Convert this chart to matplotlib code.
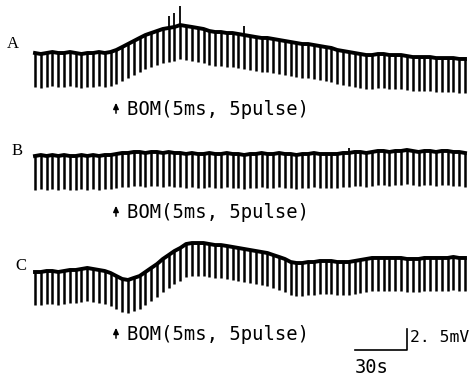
import numpy as np
import matplotlib
matplotlib.use("Agg")
import matplotlib.pyplot as plt

# ---- data (mV relative to each trace's initial level) ----
period_s = 3.35            # interval between evoked spikes (s)
depth_A = 4.0              # downward spike amplitude (mV)
depth_B = 4.0
depth_C = 3.9

base_A = [0.0, -0.12, 0.0, 0.12, 0.0, 0.0, 0.12, 0.0, -0.12, 0.0, 0.0, 0.12, 0.0, 0.12,
          0.36, 0.71, 1.07, 1.43, 1.79, 2.14, 2.38, 2.62, 2.86, 2.98,
          3.10, 3.33, 3.21, 3.10, 2.98, 2.86, 2.62, 2.50, 2.50, 2.38,
          2.38, 2.26, 2.14, 2.02, 1.90, 1.79, 1.79, 1.67, 1.55, 1.43,
          1.31, 1.19, 1.07, 1.07, 0.95, 0.83, 0.71, 0.60, 0.36, 0.24,
          0.12, 0.0, -0.12, -0.24, -0.24, -0.12, -0.12, -0.24, -0.24, -0.24,
          -0.36, -0.48, -0.48, -0.48, -0.48, -0.60, -0.60, -0.60, -0.60, -0.71, -0.71]
up_A = {23: 1.43, 24: 1.67, 25: 2.26, 36: 1.1}

base_B = [-0.12, 0.0, -0.12, 0.0, -0.12, 0.0, -0.12, -0.12, 0.0, -0.12, 0.0, -0.12, 0.0, 0.0, 0.12,
          0.24, 0.24, 0.36, 0.36, 0.24, 0.36, 0.36, 0.24, 0.36, 0.24,
          0.24, 0.12, 0.24, 0.12, 0.12, 0.24, 0.12, 0.12, 0.24, 0.12, 0.12, 0.0, 0.12,
          0.12, 0.24, 0.12, 0.12, 0.24, 0.12, 0.12, 0.0, 0.12, 0.12, 0.24, 0.12, 0.12,
          0.12, 0.12, 0.24, 0.24, 0.36, 0.36, 0.24,
          0.36, 0.48, 0.48, 0.36, 0.48, 0.48, 0.60, 0.48, 0.36, 0.48, 0.48, 0.36,
          0.48, 0.48, 0.36, 0.36, 0.24]
up_B = {54: 0.6}

base_C = [0.0, 0.0, 0.12, 0.12, 0.0, 0.12, 0.24, 0.24, 0.36, 0.48, 0.36, 0.24, 0.12,
          -0.12, -0.48, -0.83, -0.95, -0.71, -0.48, 0.0, 0.48, 0.95, 1.55,
          2.02, 2.50, 2.86, 3.33, 3.45, 3.45, 3.45, 3.33, 3.21, 3.21,
          3.10, 2.98, 2.86, 2.74, 2.62, 2.50, 2.38, 2.26, 2.02, 1.79,
          1.55, 1.19, 1.07, 1.07, 1.19, 1.19, 1.31, 1.31, 1.31, 1.19,
          1.19, 1.19, 1.31, 1.43, 1.55, 1.67, 1.67, 1.67, 1.67, 1.67,
          1.67, 1.55, 1.55, 1.55, 1.67, 1.67, 1.67, 1.67, 1.67, 1.79, 1.67, 1.67]
up_C = {}

trace_labels = ["A", "B", "C"]
stim_label = "BOM(5ms, 5pulse)"
scale_time_s = 30
scale_volt_mV = 2.5

# ---- layout ----
W, H = 471, 378
fig = plt.figure(figsize=(W / 100, H / 100), dpi=100)
ax = fig.add_axes([0, 0, 1, 1])
ax.set_axis_off()

n = len(base_A)
t = np.arange(n) * period_s
px_per_s = 430 / t[-1]
ax.set_xlim(-35 / px_per_s, (W - 35) / px_per_s)
ax.set_ylim(0, H / 8.4)   # 8.4 px per mV

def ypx(p):
    return (H - p) / 8.4

offsets = [ypx(53), ypx(155), ypx(272)]
traces = [(base_A, depth_A, up_A), (base_B, depth_B, up_B), (base_C, depth_C, up_C)]

for (base, depth, up), off in zip(traces, offsets):
    b = np.array(base) + off
    tops = b.copy()
    for k, v in up.items():
        tops[k] = b[k] + v
    ax.vlines(t, b - depth, b, color="black", lw=1.8, clip_on=False)
    upk = sorted(up)
    if upk:
        ax.vlines(t[upk], b[upk], tops[upk], color="black", lw=1.3, clip_on=False)
    ax.plot(t, b, color="black", lw=2.8, solid_joinstyle="round", clip_on=False)

# scale bars
t0 = (355 - 35) / px_per_s
ybar = ypx(350)
ax.plot([t0, t0 + scale_time_s, t0 + scale_time_s],
        [ybar, ybar, ybar + scale_volt_mV], color="black", lw=1.2, clip_on=False)

def ftext(x, y, s, **kw):
    fig.text(x / W, 1 - y / H, s, **kw)

def fxy(x, y):
    return (x / W, 1 - y / H)

mono = dict(family=["DejaVu Sans Mono", "DejaVu Sans"], color="black")
serif = dict(family=["Liberation Serif", "DejaVu Serif"], color="black")

for lab, (lx, ly) in zip(trace_labels, [(7, 48), (12, 155), (15, 270)]):
    ftext(lx, ly, lab, fontsize=12, va="baseline", ha="left", **serif)

for yb in [115, 218, 340]:
    fig.add_artist(matplotlib.patches.FancyArrowPatch(
        fxy(116, yb + 1), fxy(116, yb - 15), transform=fig.transFigure,
        arrowstyle="-|>,head_length=3.5,head_width=1.6", lw=1.1,
        color="black", mutation_scale=1))
    ftext(127, yb, stim_label, fontsize=13.6, va="baseline", ha="left", **mono)

ftext(410, 342, "2. 5mV", fontsize=11.8, va="baseline", ha="left", **mono)
ftext(355, 373, f"{scale_time_s}s", fontsize=13.5, va="baseline", ha="left", **mono)

fig.savefig("out.png", dpi=100, facecolor="white")
